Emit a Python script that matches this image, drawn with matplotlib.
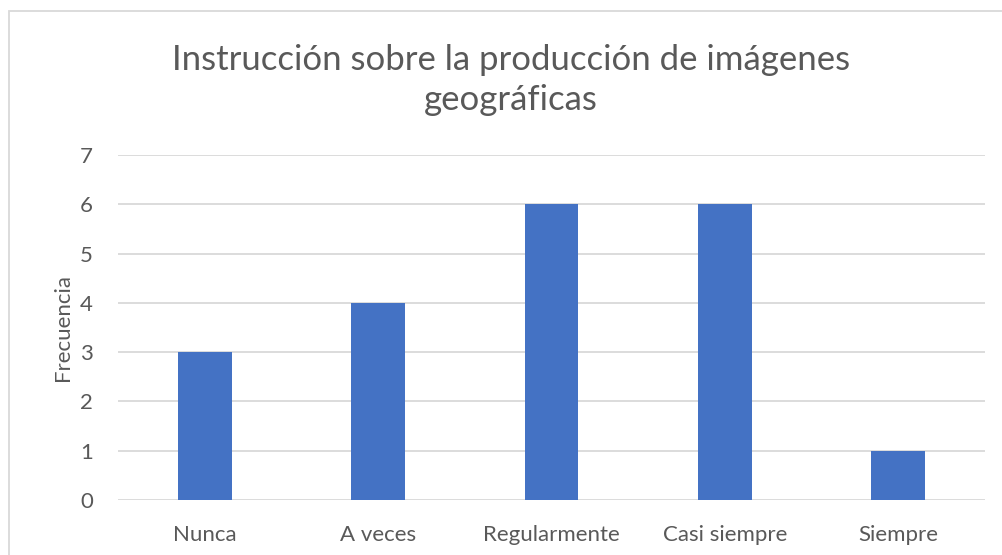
import matplotlib
matplotlib.use("Agg")
import matplotlib.pyplot as plt
from matplotlib.patches import Rectangle

categories = ["Nunca", "A veces", "Regularmente", "Casi siempre", "Siempre"]
values = [3, 4, 6, 6, 1]
yticks = [0, 1, 2, 3, 4, 5, 6, 7]
title = "Instrucción sobre la producción de imágenes\ngeográficas"
ylabel = "Frecuencia"

plt.rcParams['font.family'] = ['Lato', 'DejaVu Sans']
txt = "#595959"
grid = "#d9d9d9"

fig = plt.figure(figsize=(10.02, 5.55), dpi=100)
ax = fig.add_axes([118/1002, 1-500/555, (985-118)/1002, (500-155)/555])

x = list(range(len(categories)))
ax.bar(x, values, width=0.31, color="#4472C4", zorder=3)
ax.set_xlim(-0.5, len(categories)-0.5)
ax.set_ylim(0, 7)
ax.set_yticks(yticks)
ax.set_xticks(x)
ax.set_xticklabels(categories)
for sp in ax.spines.values():
    sp.set_visible(False)
ax.yaxis.grid(True, color=grid, linewidth=1.3, zorder=0)
ax.tick_params(axis='both', length=0, colors=txt, labelsize=16)
ax.tick_params(axis='x', pad=18)
ax.tick_params(axis='y', pad=18)
ax.set_ylabel(ylabel, color=txt, fontsize=16, labelpad=5)

fig.text(0.51, 1-80/555, title, ha='center', va='center', fontsize=25,
         color=txt, linespacing=1.3)

fig.patches.append(Rectangle((9/1002, -0.1), 1.2, 1-11/555+0.1, transform=fig.transFigure,
                             fill=False, edgecolor=grid, linewidth=1.3))

fig.savefig("out.png", dpi=100)
